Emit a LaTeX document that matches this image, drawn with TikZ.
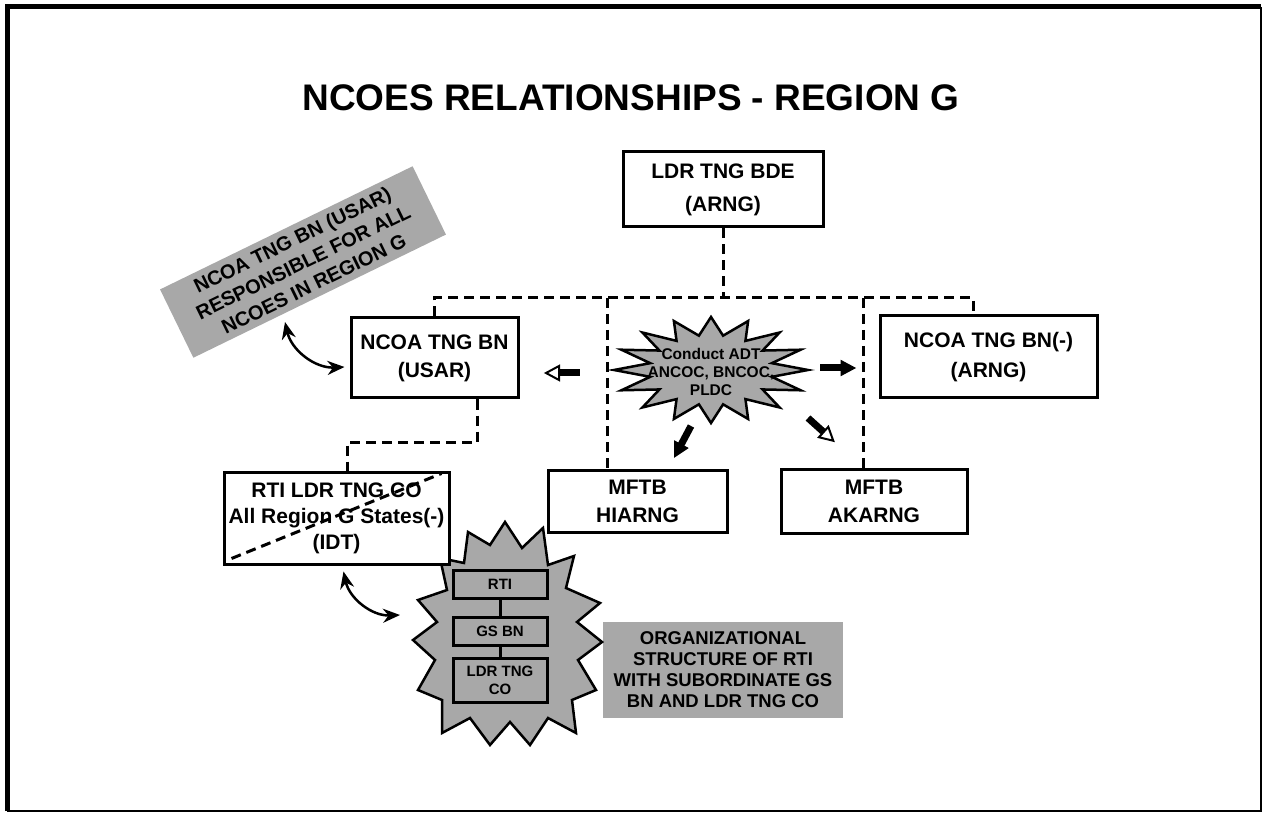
\documentclass[tikz,border=0pt]{standalone}
\usepackage{fontspec}
\setmainfont{Liberation Sans}
\usetikzlibrary{arrows.meta,calc}
\definecolor{halftone}{gray}{0.66}
\tikzset{
  dline/.style={line width=3pt, dash pattern=on 10pt off 6pt},
  nbox/.style={draw, line width=3pt, fill=white, align=center, inner sep=0pt, font=\bfseries\fontsize{21}{28}\selectfont},
  taglabel/.style={fill=halftone, align=center, inner sep=0pt, font=\bfseries\fontsize{18.5}{21}\selectfont},
  burstfill/.style={draw, fill=halftone, line width=2.5pt, line join=miter, miter limit=20},
  innerbox/.style={draw, fill=halftone, line width=3pt, align=center, inner sep=0pt, minimum width=94pt, font=\bfseries\fontsize{15}{18}\selectfont},
  curvearrow/.style={line width=2.5pt, {Stealth[length=17pt,width=14pt]}-{Stealth[length=17pt,width=14pt]}},
  solidarrow/.pic={
    \fill[black] (0,-3.5) rectangle (22,3.5);
    \filldraw[black, line width=1pt, line join=miter] (21,-7.5) -- (35,0) -- (21,7.5) -- cycle;
  },
  hollowarrow/.pic={
    \fill[black] (0,-3.5) rectangle (21,3.5);
    \filldraw[draw=black, fill=white, line width=2pt, line join=miter] (21,-7) -- (34,0) -- (21,7) -- cycle;
  }
}
\begin{document}
\begin{tikzpicture}[x=1pt,y=1pt]
\useasboundingbox (0,0) rectangle (1263,815);
% frame
\draw[line width=5pt] (7,4) -- (7,808) -- (1261,808);
\draw[line width=2pt] (7,4) -- (1261,4) -- (1261,808);

% title
\node[font=\bfseries\fontsize{37}{44}\selectfont, inner sep=0pt] (title) at (631,717) {NCOES RELATIONSHIPS - REGION G};

% gray labels
\node[taglabel, rotate=26, minimum width=281pt, minimum height=76pt, font=\bfseries\fontsize{20}{24.5}\selectfont] (resp) at (303,553) {NCOA TNG BN (USAR)\\RESPONSIBLE FOR ALL\\NCOES IN REGION G};
\node[taglabel, minimum width=240pt, minimum height=96pt] (org) at (723,145) {ORGANIZATIONAL\\STRUCTURE OF RTI\\WITH SUBORDINATE GS\\BN AND LDR TNG CO};

% boxes
\node[nbox, minimum width=200pt, minimum height=75pt, font=\bfseries\fontsize{21}{33}\selectfont] (bde) at (723,625.5) {LDR TNG BDE\\(ARNG)};
\node[nbox, minimum width=167pt, minimum height=80pt] (usar) at (434.5,457) {NCOA TNG BN\\(USAR)};
\node[nbox, minimum width=217pt, minimum height=82pt, font=\bfseries\fontsize{21}{30}\selectfont] (arng) at (988.5,458) {NCOA TNG BN(-)\\(ARNG)};
\node[nbox, minimum width=179pt, minimum height=62pt] (hi) at (637.5,313.5) {MFTB\\HIARNG};
\node[nbox, minimum width=186pt, minimum height=64pt] (ak) at (874,313.5) {MFTB\\AKARNG};

% dashed organisation lines
\coordinate (busL) at (433,517);
\coordinate (busR) at (973,517);
\coordinate (j1) at (607,517);
\coordinate (j2) at (863,517);
\coordinate (u1) at (477,373);
\coordinate (u2) at (347,373);
\draw[dline] (bde.south) -- (bde.south |- busL);
\draw[dline] (usar.north) -- (usar.north |- busL) -- (busR) -- (busR |- arng.north);
\draw[dline] (j1) -- (j1 |- hi.north);
\draw[dline] (j2) -- (j2 |- ak.north);

% bottom starburst
\draw[burstfill] (505,293) -- (522,267) -- (543,287) -- (548,250) -- (574,259) -- (566,227)
  -- (600,212) -- (577,193) -- (602,173) -- (578,155) -- (596,125) -- (572,115)
  -- (576,82) -- (548,97) -- (530,70) -- (510,93) -- (490,70) -- (470,97)
  -- (442,82) -- (442,115) -- (418,125) -- (435,155) -- (413,175) -- (437,193)
  -- (418,215) -- (447,225) -- (440,257) -- (464,252) -- (468,283) -- (490,270) -- cycle;
\node[innerbox, minimum height=28pt] (irti) at (500,231) {RTI};
\node[innerbox, minimum height=28pt] (igs) at (500,184) {GS BN};
\node[innerbox, minimum height=44pt] (ildr) at (500,135) {LDR TNG\\CO};
\draw[line width=3pt] (irti) -- (igs);
\draw[line width=3pt] (igs) -- (ildr);

% RTI box
\node[nbox, minimum width=225pt, minimum height=92pt, font=\bfseries\fontsize{21}{26}\selectfont] (rti) at (336.5,297) {RTI LDR TNG CO\\All Region G States(-)\\(IDT)};
\draw[dline] (u1 |- usar.south) -- (u1) -- (u2) -- (u2 |- rti.north);
\draw[dline] ($(rti.south west)+(9,7)$) -- ($(rti.north east)+(-9,-3)$);

% central starburst
\draw[burstfill] plot[samples at={0,...,31}] ({711+ifthenelse(mod(\x,2)<0.5,97,62)*cos(\x*11.25)},{445+ifthenelse(mod(\x,2)<0.5,53,35)*sin(\x*11.25)}) -- cycle;
\node[font=\bfseries\fontsize{15.5}{18}\selectfont, align=center, inner sep=0pt] (adt) at (711,443) {Conduct ADT\\ANCOC, BNCOC,\\PLDC};

% block arrows
\coordinate (a1) at (580,442);
\coordinate (a2) at (820,447);
\coordinate (a3) at (691,389);
\coordinate (a4) at (808,397);
\pic[rotate=180] at (a1) {hollowarrow};
\pic at (a2) {solidarrow};
\pic[rotate=242] at (a3) {solidarrow};
\pic[rotate=-42] at (a4) {hollowarrow};

% curved double arrows
\coordinate (r1) at (285,493);
\coordinate (b1) at (400,200);
\draw[curvearrow] (r1) to[bend right=40] ($(usar.west)+(-5,-9)$);
\draw[curvearrow] ($(rti.south)+(7,-6)$) to[bend right=40] (b1);
\end{tikzpicture}
\end{document}
